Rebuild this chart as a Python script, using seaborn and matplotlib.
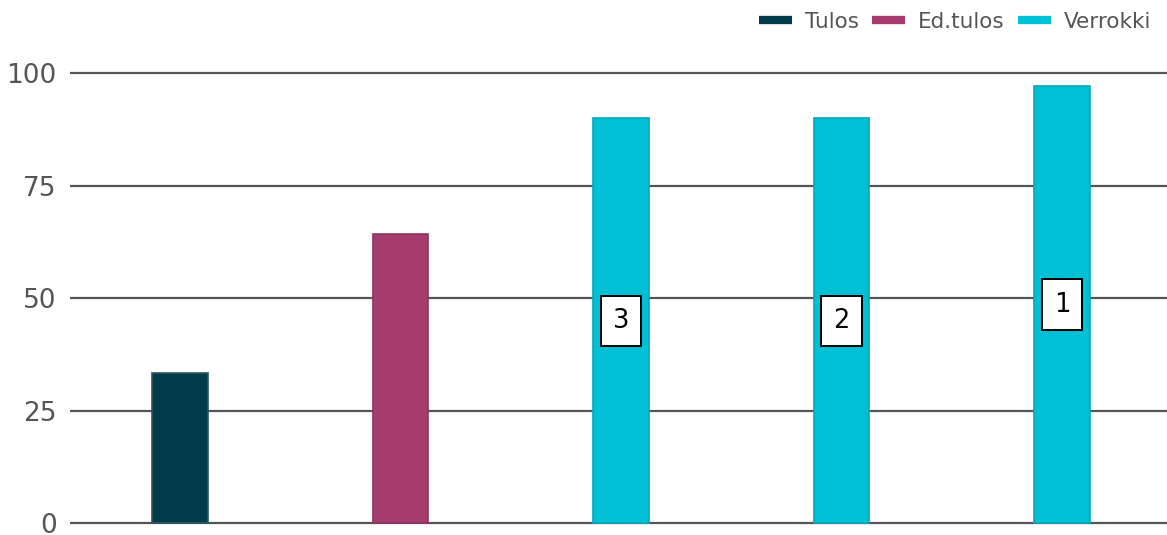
import matplotlib
matplotlib.use("Agg")
import matplotlib.pyplot as plt
from matplotlib.lines import Line2D
import pandas as pd
import seaborn as sns

# Chart data
categories = ["Tulos", "Ed.tulos", "Verrokki A", "Verrokki B", "Verrokki C"]
series = ["Tulos", "Ed.tulos", "Verrokki", "Verrokki", "Verrokki"]
values = [33.3, 64.2, 90.0, 90.0, 97.2]
ranks = ["", "", "3", "2", "1"]
y_ticks = [0, 25, 50, 75, 100]

palette = {"Tulos": "#023b4a", "Ed.tulos": "#a63c6e", "Verrokki": "#00c0d5"}
edges = {"Tulos": "#2f5663", "Ed.tulos": "#8e3360", "Verrokki": "#00a9bc"}

df = pd.DataFrame({"cat": categories, "series": series, "value": values})

sns.set_theme(style="white", font="DejaVu Sans")
plt.rcParams["font.family"] = ["DejaVu Sans"]
FONT = "DejaVu Sans"

fig = plt.figure(figsize=(11.67, 5.35), dpi=100)
ax = fig.add_axes([69.75 / 1167, 7.5 / 535, 1102.5 / 1167, (527.5 - 69) / 535])

sns.barplot(data=df, x="cat", y="value", hue="series", palette=palette,
            saturation=1, dodge=False, width=0.25, legend=False, ax=ax,
            zorder=3)

for patch, s in zip(ax.patches, series):
    patch.set_edgecolor(edges[s])
    patch.set_linewidth(1.2)

# Rank labels at bar mid-height
for i, (v, r) in enumerate(zip(values, ranks)):
    if r:
        ax.text(i, v / 2, r, ha="center", va="center", fontsize=18.5,
                family=FONT, color="black", zorder=5,
                bbox=dict(boxstyle="square,pad=0.47", fc="white",
                          ec="black", lw=1.4))

ax.set_xlim(-0.5, 4.5)
ax.set_ylim(-1, 101)
ax.set_yticks(y_ticks)
ax.set_yticklabels([str(t) for t in y_ticks], family=FONT)
ax.set_xticks([])
ax.set_xlabel("")
ax.set_ylabel("")
ax.tick_params(axis="y", length=0, pad=9.5, labelsize=19, labelcolor="#555555")
ax.grid(axis="y", color="#555555", linewidth=1.6, zorder=1)
ax.set_axisbelow(True)
for sp in ax.spines.values():
    sp.set_visible(False)

handles = [Line2D([0], [0], color=palette[k], lw=6, solid_capstyle="butt")
           for k in palette]
fig.legend(handles, list(palette.keys()), loc="upper right",
           bbox_to_anchor=(1.0 - 5 / 1167, 1.0 - 1 / 535), ncol=3,
           frameon=False, prop={"family": FONT, "size": 15.5},
           handlelength=1.55, handletextpad=0.6, columnspacing=0.6,
           labelcolor="#555555", borderaxespad=0.1)

fig.savefig("out.png", dpi=100, facecolor="white")
